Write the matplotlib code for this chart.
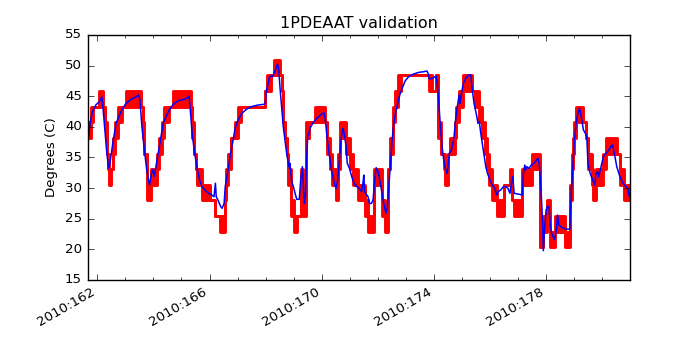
import matplotlib
matplotlib.use("Agg")
import matplotlib.pyplot as plt
from matplotlib.ticker import MultipleLocator, FuncFormatter

# telemetry (quantized) : start day of each step, low / high level of the step
# (low != high where the sensor flips quickly between two adjacent levels)
red_t = [161.69, 161.76, 161.86, 162.07, 162.21, 162.29, 162.31, 162.34, 162.38, 162.43,
         162.50, 162.55, 162.64, 162.74, 162.88, 163.02, 163.56, 163.62, 163.68, 163.76,
         163.78, 163.91, 164.12, 164.19, 164.31, 164.39, 164.57, 164.71, 165.33, 165.38,
         165.45, 165.53, 165.57, 165.73, 166.01, 166.19, 166.36, 166.54, 166.59, 166.66,
         166.78, 166.90, 167.02, 167.13, 167.99, 168.06, 168.20, 168.30, 168.51, 168.57,
         168.63, 168.69, 168.75, 168.81, 168.91, 169.01, 169.13, 169.25, 169.34, 169.44,
         169.49, 169.56, 169.76, 170.12, 170.20, 170.30, 170.36, 170.51, 170.59, 170.65,
         170.87, 171.01, 171.13, 171.30, 171.54, 171.65, 171.85, 172.15, 172.25, 172.36,
         172.45, 172.53, 172.62, 172.72, 172.84, 173.81, 173.93, 174.07, 174.15, 174.26,
         174.35, 174.41, 174.50, 174.58, 174.74, 174.80, 174.89, 175.05, 175.37, 175.45,
         175.61, 175.73, 175.81, 175.88, 175.95, 176.08, 176.26, 176.50, 176.71, 176.78,
         176.86, 177.15, 177.51, 177.78, 177.90, 178.02, 178.14, 178.32, 178.67, 178.85,
         178.92, 178.97, 179.01, 179.08, 179.30, 179.42, 179.48, 179.62, 179.68, 179.78,
         180.02, 180.14, 180.52, 180.63, 180.79, 180.99]
red_lo = [38.2, 40.75, 43.3, 43.3, 43.3, 40.75, 38.2, 35.65, 33.1, 30.55,
          33.1, 35.65, 38.2, 40.75, 43.3, 43.3, 43.3, 38.2, 35.65, 33.1,
          28.0, 30.55, 33.1, 35.65, 38.2, 40.75, 43.3, 43.3, 43.3, 38.2,
          35.65, 33.1, 30.55, 28.0, 28.0, 25.45, 22.9, 28.0, 30.55, 33.1,
          38.2, 38.2, 40.75, 43.3, 45.85, 45.85, 48.4, 48.4, 48.4, 45.85,
          40.75, 38.2, 35.65, 30.55, 25.45, 22.9, 25.45, 30.55, 25.45, 38.2,
          38.2, 40.75, 40.75, 40.75, 35.65, 33.1, 30.55, 28.0, 33.1, 38.2,
          35.65, 33.1, 30.55, 28.0, 25.45, 22.9, 30.55, 25.45, 22.9, 33.1,
          35.65, 40.75, 43.3, 45.85, 48.4, 45.85, 45.85, 48.4, 38.2, 35.65,
          33.1, 30.55, 35.65, 35.65, 38.2, 40.75, 43.3, 45.85, 45.85, 43.3,
          40.75, 38.2, 35.65, 33.1, 30.55, 28.0, 25.45, 30.55, 30.55, 28.0,
          25.45, 30.55, 33.1, 20.35, 22.9, 25.45, 20.35, 22.9, 20.35, 28.0,
          33.1, 35.65, 38.2, 40.75, 40.75, 38.2, 33.1, 30.55, 28.0, 30.55,
          33.1, 35.65, 35.65, 30.55, 28.0, 28.0]
red_hi = [40.75, 43.3, 43.3, 45.85, 43.3, 40.75, 40.75, 35.65, 35.65, 33.1,
          33.1, 38.2, 40.75, 43.3, 43.3, 45.85, 43.3, 40.75, 35.65, 33.1,
          30.55, 33.1, 35.65, 38.2, 40.75, 43.3, 43.3, 45.85, 43.3, 40.75,
          35.65, 33.1, 33.1, 30.55, 28.0, 25.45, 25.45, 28.0, 33.1, 35.65,
          38.2, 40.75, 43.3, 43.3, 45.85, 48.4, 48.4, 50.95, 48.4, 45.85,
          40.75, 38.2, 35.65, 33.1, 28.0, 25.45, 25.45, 33.1, 28.0, 40.75,
          38.2, 40.75, 43.3, 40.75, 38.2, 35.65, 33.1, 30.55, 35.65, 40.75,
          38.2, 35.65, 33.1, 30.55, 28.0, 25.45, 33.1, 28.0, 25.45, 33.1,
          38.2, 43.3, 45.85, 48.4, 48.4, 48.4, 45.85, 48.4, 40.75, 35.65,
          35.65, 33.1, 35.65, 38.2, 40.75, 43.3, 45.85, 48.4, 45.85, 45.85,
          43.3, 40.75, 38.2, 35.65, 33.1, 30.55, 28.0, 30.55, 33.1, 28.0,
          28.0, 33.1, 35.65, 20.35, 25.45, 28.0, 22.9, 25.45, 22.9, 30.55,
          35.65, 38.2, 40.75, 43.3, 40.75, 38.2, 35.65, 33.1, 30.55, 33.1,
          35.65, 38.2, 35.65, 33.1, 30.55, 30.55]

# model prediction
blue_t = [161.69, 161.74, 161.83, 161.95, 162.07, 162.16, 162.19, 162.25, 162.33, 162.40,
          162.45, 162.55, 162.67, 162.79, 162.90, 163.02, 163.20, 163.38, 163.47, 163.52,
          163.59, 163.68, 163.76, 163.86, 163.93, 163.97, 164.03, 164.09, 164.19, 164.27,
          164.35, 164.45, 164.57, 164.71, 164.88, 165.11, 165.23, 165.27, 165.30, 165.38,
          165.47, 165.57, 165.65, 165.73, 165.89, 166.07, 166.16, 166.21, 166.24, 166.30,
          166.40, 166.45, 166.52, 166.56, 166.66, 166.75, 166.84, 166.92, 167.02, 167.13,
          167.31, 167.49, 167.73, 167.94, 167.99, 168.03, 168.09, 168.14, 168.20, 168.25,
          168.30, 168.37, 168.42, 168.47, 168.51, 168.57, 168.63, 168.69, 168.75, 168.81,
          168.85, 168.87, 168.89, 168.93, 168.99, 169.05, 169.11, 169.20, 169.25, 169.31,
          169.35, 169.38, 169.42, 169.46, 169.50, 169.54, 169.58, 169.68, 169.82, 170.00,
          170.08, 170.13, 170.20, 170.27, 170.36, 170.45, 170.51, 170.57, 170.63, 170.69,
          170.75, 170.80, 170.87, 170.91, 170.99, 171.07, 171.15, 171.25, 171.34, 171.42,
          171.47, 171.50, 171.53, 171.58, 171.65, 171.70, 171.77, 171.83, 171.89, 171.94,
          172.01, 172.09, 172.15, 172.21, 172.29, 172.34, 172.39, 172.45, 172.51, 172.57,
          172.63, 172.72, 172.80, 172.89, 172.98, 173.10, 173.28, 173.46, 173.64, 173.75,
          173.79, 173.84, 173.91, 173.99, 174.08, 174.11, 174.17, 174.23, 174.29, 174.35,
          174.41, 174.47, 174.50, 174.55, 174.62, 174.68, 174.72, 174.78, 174.84, 174.90,
          174.93, 174.98, 175.05, 175.13, 175.25, 175.31, 175.37, 175.43, 175.53, 175.57,
          175.62, 175.67, 175.76, 175.85, 175.91, 176.00, 176.08, 176.17, 176.24, 176.29,
          176.38, 176.48, 176.56, 176.64, 176.71, 176.76, 176.81, 176.86, 176.98, 177.15,
          177.19, 177.24, 177.27, 177.31, 177.39, 177.47, 177.57, 177.66, 177.71, 177.76,
          177.83, 177.88, 177.90, 177.95, 178.00, 178.04, 178.10, 178.16, 178.22, 178.30,
          178.36, 178.41, 178.45, 178.55, 178.70, 178.84, 178.90, 178.95, 179.01, 179.07,
          179.13, 179.19, 179.25, 179.33, 179.40, 179.45, 179.49, 179.57, 179.66, 179.73,
          179.78, 179.84, 179.87, 179.96, 180.04, 180.14, 180.23, 180.31, 180.37, 180.43,
          180.52, 180.61, 180.71, 180.79, 180.91, 180.97]
blue_v = [38.4, 40.6, 42.5, 43.6, 44.1, 44.9, 43.8, 40.6, 36.2, 33.2,
          34.05, 37.3, 40.6, 41.9, 43.0, 43.8, 44.5, 44.9, 45.2, 44.4,
          40.0, 36.2, 33.0, 30.5, 32.4, 33.0, 31.9, 33.5, 36.2, 38.4,
          40.6, 41.7, 42.8, 43.7, 44.28, 44.5, 44.8, 45.04, 43.57, 38.94,
          35.68, 32.96, 31.3, 30.24, 29.42, 28.9, 28.6, 30.8, 28.6, 28.06,
          26.97, 26.7, 27.5, 30.24, 32.96, 35.68, 37.85, 39.9, 41.1, 42.1,
          42.86, 43.3, 43.57, 43.68, 43.84, 46.02, 47.1, 48.2, 48.3, 48.2,
          48.74, 49.56, 50.26, 49.28, 46.56, 43.3, 40.03, 37.85, 35.68, 34.05,
          33.23, 34.05, 32.68, 31.05, 30.24, 29.15, 28.17, 28.17, 31.3, 33.5,
          30.24, 27.5, 28.6, 34.59, 38.4, 38.94, 39.76, 40.58, 41.39, 42.1,
          42.32, 41.12, 37.85, 35.4, 32.68, 30.78, 29.96, 31.3, 34.59, 37.85,
          39.76, 38.94, 36.77, 34.05, 33.23, 31.87, 30.78, 30.24, 29.96, 29.42,
          30.8, 32.14, 29.42, 29.04, 28.6, 27.5, 27.5, 28.06, 31.3, 33.34,
          32.68, 30.78, 29.15, 27.5, 25.88, 26.97, 30.24, 34.05, 37.85, 40.58,
          42.21, 44.1, 45.47, 46.56, 47.54, 48.2, 48.63, 48.9, 49.01, 49.12,
          48.74, 47.76, 47.87, 48.03, 48.3, 47.38, 44.38, 40.03, 36.77, 34.59,
          33.23, 32.41, 33.5, 35.68, 36.22, 37.4, 38.5, 41.5, 43.5, 45.2,
          43.84, 45.47, 47.1, 47.92, 48.47, 48.47, 46.02, 43.84, 41.67, 40.58,
          40.85, 38.94, 36.22, 33.5, 32.41, 31.3, 30.5, 29.96, 28.9, 29.42,
          29.7, 30.24, 30.24, 29.96, 29.15, 30.78, 31.87, 29.15, 29.04, 28.9,
          32.41, 33.77, 32.96, 33.5, 33.23, 33.77, 34.05, 34.59, 34.86, 33.77,
          28.6, 23.7, 19.79, 23.7, 26.4, 27.0, 27.0, 23.5, 22.3, 21.6,
          23.0, 25.6, 24.0, 23.6, 23.3, 23.3, 29.7, 33.5, 37.85, 40.58,
          42.21, 43.0, 41.67, 39.49, 38.94, 38.4, 34.05, 32.41, 31.3, 30.5,
          32.41, 32.68, 31.87, 33.5, 35.14, 35.68, 36.22, 36.77, 37.04, 35.68,
          33.5, 32.14, 31.05, 30.5, 29.96, 28.6]

plt.style.use('classic')
plt.rcParams['font.size'] = 9.6

fig = plt.figure(figsize=(7, 3.5), facecolor='white')
ax = fig.add_subplot(111)

ax.fill_between(red_t, red_lo, red_hi, step='post', color='r', lw=0)
ax.step(red_t, red_lo, where='post', color='r', lw=2.1)
ax.step(red_t, red_hi, where='post', color='r', lw=2.1)
ax.plot(blue_t, blue_v, color='b', lw=1.1)

ax.set_xlim(161.65, 180.99)
ax.set_ylim(15, 55)
ax.xaxis.set_major_locator(MultipleLocator(4, offset=2))
ax.xaxis.set_minor_locator(MultipleLocator(1))
ax.xaxis.set_major_formatter(FuncFormatter(lambda x, pos: '2010:%03d' % round(x)))
ax.yaxis.set_major_locator(MultipleLocator(5))

ax.set_title('1PDEAAT validation')
ax.set_ylabel('Degrees (C)')
fig.autofmt_xdate()

fig.savefig('out.png', dpi=100, facecolor='white')
